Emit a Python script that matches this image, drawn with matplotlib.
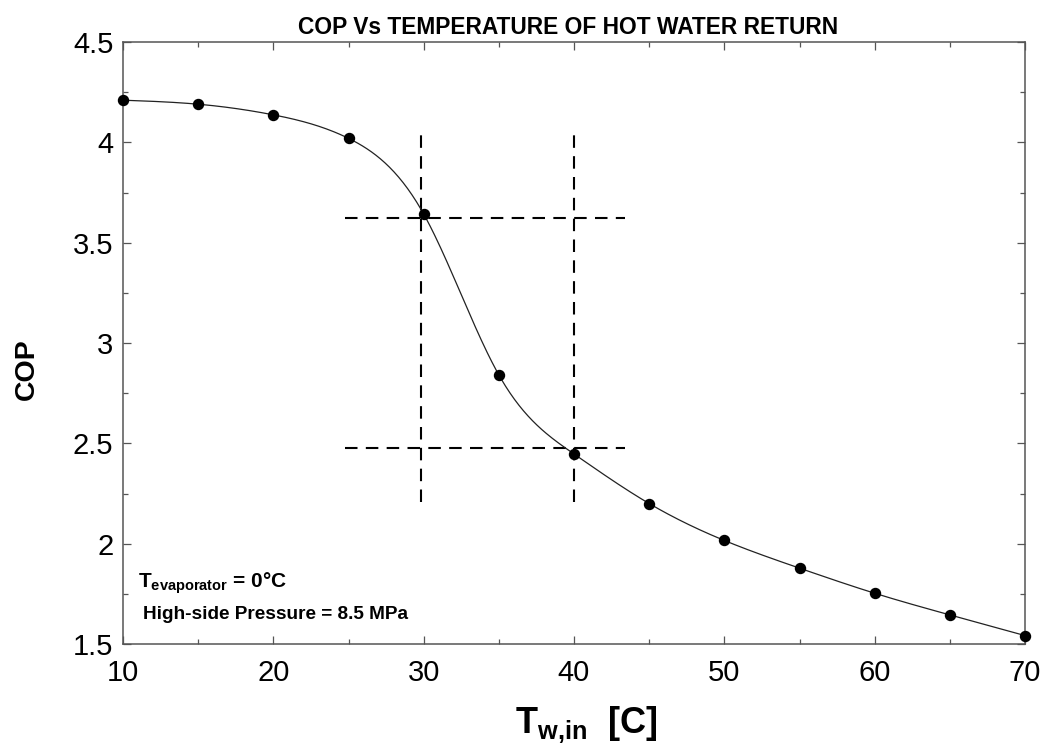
import numpy as np
import matplotlib
matplotlib.use("Agg")
import matplotlib.pyplot as plt
from matplotlib.ticker import MultipleLocator

plt.rcParams['font.family'] = ['Liberation Sans', 'DejaVu Sans']
plt.rcParams['mathtext.fontset'] = 'custom'
plt.rcParams['mathtext.rm'] = 'Liberation Sans'
plt.rcParams['mathtext.bf'] = 'Liberation Sans:bold'

# COP at each hot-water return temperature
t_water = [10, 15, 20, 25, 30, 35, 40, 45, 50, 55, 60, 65, 70]
cop = [4.21, 4.19, 4.137, 4.02, 3.643, 2.841, 2.447, 2.2, 2.016, 1.878, 1.753, 1.645, 1.542]

# guide lines read across to the curve
guide_x = [29.8, 40.0]
guide_x_span = [2.21, 4.04]
guide_y = [3.622, 2.476]
guide_y_span = [24.8, 43.4]

x_ticks = [10, 20, 30, 40, 50, 60, 70]
y_ticks = [1.5, 2, 2.5, 3, 3.5, 4, 4.5]
y_tick_labels = ['1.5', '2', '2.5', '3', '3.5', '4', '4.5']


def natural_spline(x, y, xs):
    # natural cubic spline through the points, evaluated at xs
    x = np.asarray(x, float)
    y = np.asarray(y, float)
    n = len(x)
    h = np.diff(x)
    A = np.zeros((n, n))
    b = np.zeros(n)
    A[0, 0] = A[-1, -1] = 1.0
    for i in range(1, n - 1):
        A[i, i - 1] = h[i - 1]
        A[i, i] = 2 * (h[i - 1] + h[i])
        A[i, i + 1] = h[i]
        b[i] = 3 * ((y[i + 1] - y[i]) / h[i] - (y[i] - y[i - 1]) / h[i - 1])
    c = np.linalg.solve(A, b)
    bb = (y[1:] - y[:-1]) / h - h * (2 * c[:-1] + c[1:]) / 3
    d = (c[1:] - c[:-1]) / (3 * h)
    idx = np.clip(np.searchsorted(x, xs) - 1, 0, n - 2)
    dx = xs - x[idx]
    return y[idx] + bb[idx] * dx + c[idx] * dx ** 2 + d[idx] * dx ** 3


fig = plt.figure(figsize=(10.43, 7.44), dpi=100)
ax = fig.add_axes([123 / 1043, 1 - 644 / 744, 902 / 1043, 602 / 744])

xs = np.linspace(t_water[0], t_water[-1], 600)
ax.plot(xs, natural_spline(t_water, cop, xs), color='#222222', lw=0.9, zorder=3)
ax.plot(t_water, cop, 'o', color='black', ms=7.2, zorder=4, clip_on=False)

for gx in guide_x:
    ax.plot([gx, gx], guide_x_span, color='black', lw=1.5, dashes=(6, 4), zorder=2)
for gy in guide_y:
    ax.plot(guide_y_span, [gy, gy], color='black', lw=1.5, dashes=(6, 4), zorder=2)

ax.set_xlim(10, 70)
ax.set_ylim(1.5, 4.5)
ax.set_xticks(x_ticks)
ax.set_xticklabels([str(v) for v in x_ticks])
ax.set_yticks(y_ticks)
ax.set_yticklabels(y_tick_labels)
ax.xaxis.set_minor_locator(MultipleLocator(5))
ax.yaxis.set_minor_locator(MultipleLocator(0.25))
ax.tick_params(which='both', direction='in', top=True, right=True,
               color='#555555', width=0.9)
ax.tick_params(which='major', length=6, labelsize=21)
ax.tick_params(axis='x', which='major', pad=11)
ax.tick_params(axis='y', which='major', pad=7)
ax.tick_params(which='minor', length=3.5)
for sp in ax.spines.values():
    sp.set_color('#555555')
    sp.set_linewidth(1.1)

ax.set_title('COP Vs TEMPERATURE OF HOT WATER RETURN', fontsize=16.4,
             fontweight='bold', x=0.493, pad=6)

fig.text(27 / 1043, 1 - 369 / 744, 'COP', rotation=90, fontsize=20.5,
         fontweight='bold', ha='center', va='center')
ax.set_xlabel(r'$\mathbf{T_{w{,}in}}$  [C]', fontsize=26, fontweight='bold',
              labelpad=12, x=0.514)

ax.text(11.0, 1.78, r'$\mathbf{T_{evaporator}}$ = 0°C', fontsize=15,
        fontweight='bold', va='baseline')
ax.text(11.31, 1.625, 'High-side Pressure = 8.5 MPa', fontsize=13.7,
        fontweight='bold', va='baseline')

fig.savefig('out.png', dpi=100)
